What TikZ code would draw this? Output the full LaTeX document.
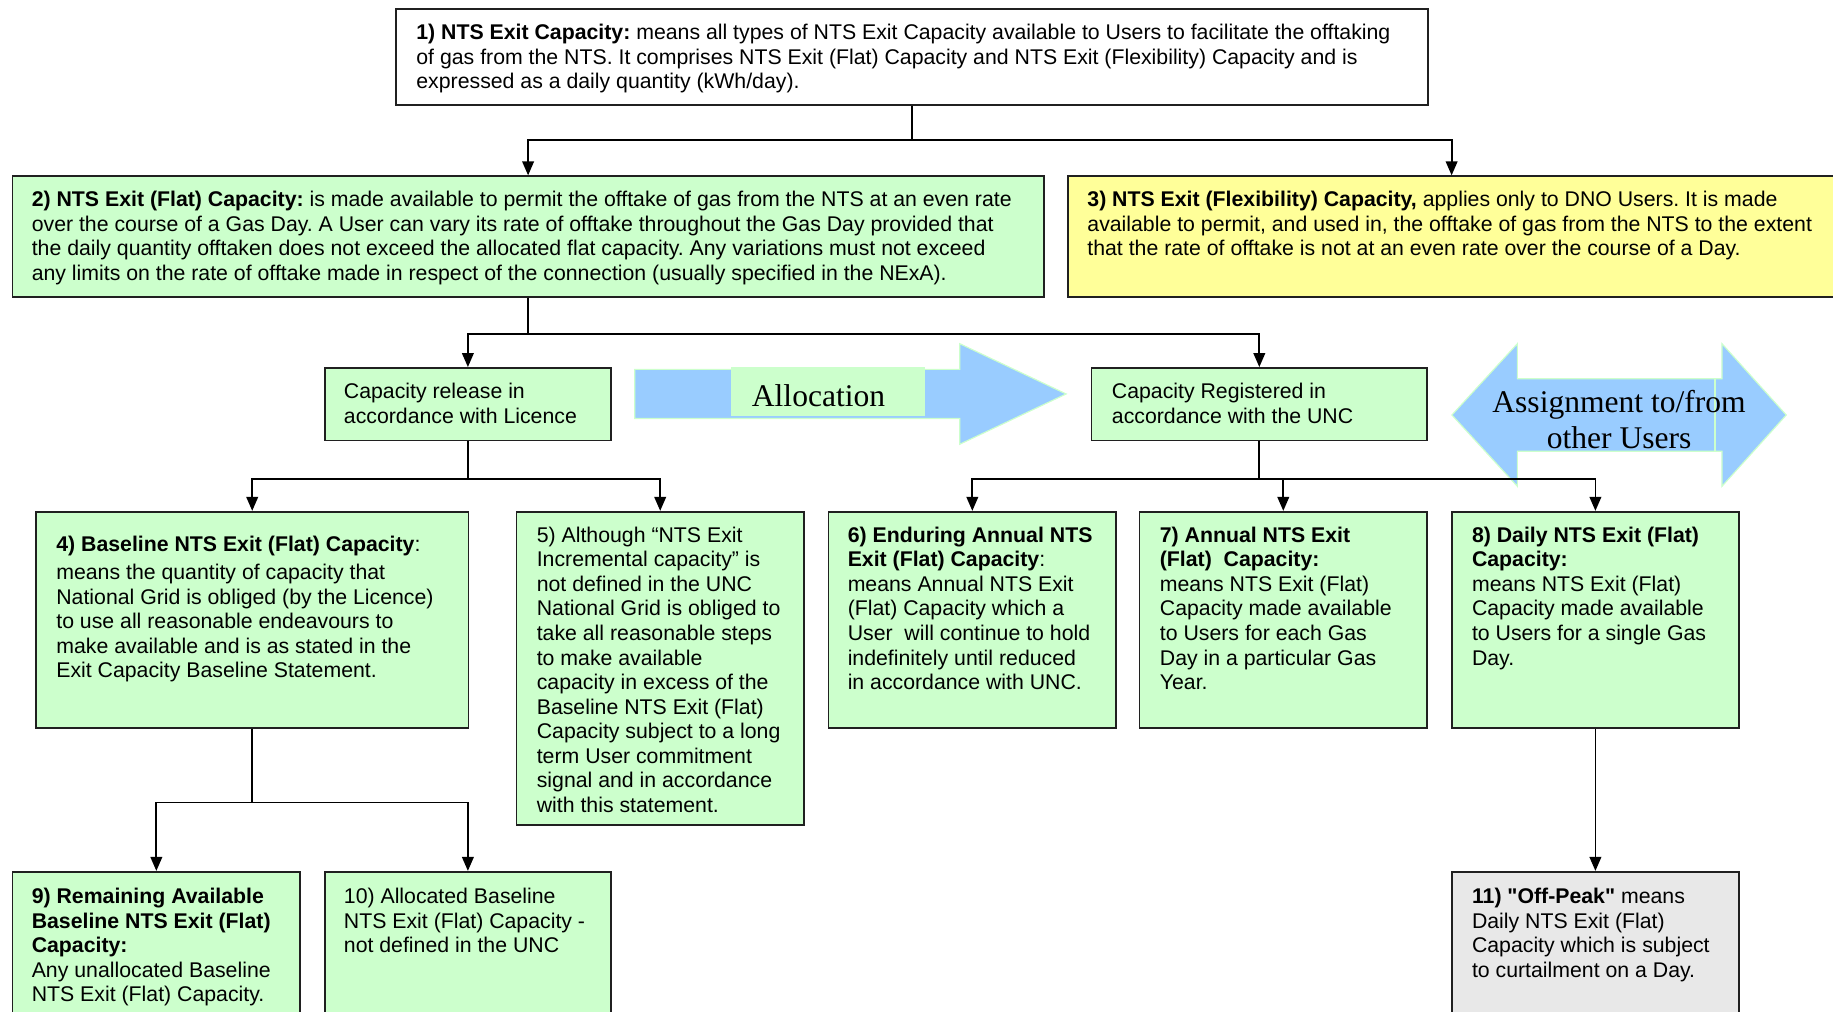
\documentclass[tikz,border=0pt]{standalone}
\usepackage{fontspec}
\setmainfont{Liberation Sans}[Ligatures=TeXOff]
\newfontfamily\serifff{Liberation Serif}
\usetikzlibrary{arrows.meta}
\definecolor{boxgreen}{HTML}{CCFFCC}
\definecolor{boxyellow}{HTML}{FFFF99}
\definecolor{boxgray}{HTML}{E8E8E8}
\definecolor{arrowblue}{HTML}{99CCFF}
\definecolor{edgegray}{HTML}{202020}
\frenchspacing
\tikzset{
  boxbase/.style={draw=edgegray, line width=1.5pt, anchor=north west, inner sep=0pt},
  wbox/.style={boxbase, fill=white},
  gbox/.style={boxbase, fill=boxgreen},
  ybox/.style={boxbase, fill=boxyellow},
  greybox/.style={boxbase, fill=boxgray},
  txt/.style={anchor=north west, inner sep=0pt, align=left, font=\fontsize{18.2}{21}\selectfont},
  conn/.style={draw=black, line width=1.5pt, -{Triangle[length=12pt,width=10pt]}},
  bigarrow/.style={fill=arrowblue, draw=boxgreen, line width=1pt},
  bigtxt/.style={font=\serifff\fontsize{27}{31}\selectfont, align=center, inner sep=0pt}
}
\begin{document}
\begin{tikzpicture}[x=1pt,y=-1pt]
\useasboundingbox (0,0) rectangle (1568,865);
\clip (0,0) rectangle (1568,865);

% big arrows
\draw[bigarrow] (543,316) -- (821,316) -- (821,294) -- (912,337) -- (821,380) -- (821,358) -- (543,358) -- cycle;
\node[fill=boxgreen, minimum width=166pt, minimum height=42pt, inner sep=0pt, anchor=north west] (alloc) at (625,314) {};
\node[bigtxt] (alloctxt) at ([shift={(-8,3)}]alloc.center) {Allocation};

\draw[bigarrow] (1242,355) -- (1298,294) -- (1298,324) -- (1473,324) -- (1473,294) -- (1528,355) -- (1473,416) -- (1473,386) -- (1298,386) -- (1298,416) -- cycle;
\draw[draw=boxgreen, line width=1pt] (1467,324) -- (1467,386);
\node[bigtxt] (assign) at (1385,359) {Assignment to/from\\other Users};

% boxes
\node[wbox, minimum width=883pt, minimum height=82pt] (b1) at (338,7) {};
\node[gbox, minimum width=882pt, minimum height=103pt] (b2) at (10,150) {};
\node[ybox, minimum width=656pt, minimum height=103pt] (b3) at (913,150) {};
\node[gbox, minimum width=245pt, minimum height=62pt] (cr) at (277,314) {};
\node[gbox, minimum width=287pt, minimum height=62pt] (creg) at (933,314) {};
\node[gbox, minimum width=370pt, minimum height=185pt] (b4) at (30,437) {};
\node[gbox, minimum width=246pt, minimum height=268pt] (b5) at (441,437) {};
\node[gbox, minimum width=246pt, minimum height=185pt] (b6) at (708,437) {};
\node[gbox, minimum width=246pt, minimum height=185pt] (b7) at (974,437) {};
\node[gbox, minimum width=246pt, minimum height=185pt] (b8) at (1241,437) {};
\node[gbox, minimum width=246pt, minimum height=140pt] (b9) at (10,745) {};
\node[gbox, minimum width=245pt, minimum height=140pt] (b10) at (277,745) {};
\node[greybox, minimum width=246pt, minimum height=140pt] (b11) at (1241,745) {};

% texts
\node[txt] (t1) at ([shift={(18,13.5)}]b1.north west) {\textbf{1) NTS Exit Capacity:} means all types of NTS Exit Capacity available to Users to facilitate the offtaking\\ of gas from the NTS. It comprises NTS Exit (Flat) Capacity and NTS Exit (Flexibility) Capacity and is\\ expressed as a daily quantity (kWh/day).};
\node[txt] (t2) at ([shift={(17,13.5)}]b2.north west) {\textbf{2) NTS Exit (Flat) Capacity:} is made available to permit the offtake of gas from the NTS at an even rate\\ over the course of a Gas Day. A User can vary its rate of offtake throughout the Gas Day provided that\\ the daily quantity offtaken does not exceed the allocated flat capacity. Any variations must not exceed\\ any limits on the rate of offtake made in respect of the connection (usually specified in the NExA).};
\node[txt] (t3) at ([shift={(17,13.5)}]b3.north west) {\textbf{3) NTS Exit (Flexibility) Capacity,} applies only to DNO Users. It is made\\ available to permit, and used in, the offtake of gas from the NTS to the extent\\ that the rate of offtake is not at an even rate over the course of a Day.};
\node[txt] (tcr) at ([shift={(17,13.5)}]cr.north west) {Capacity release in\\ accordance with Licence};
\node[txt] (tcreg) at ([shift={(18,13.5)}]creg.north west) {Capacity Registered in\\ accordance with the UNC};
\node[txt] (t4) at ([shift={(18,21.5)}]b4.north west) {\textbf{4) Baseline NTS Exit (Flat) Capacity}:\\[3pt] means the quantity of capacity that\\ National Grid is obliged (by the Licence)\\ to use all reasonable endeavours to\\ make available and is as stated in the\\ Exit Capacity Baseline Statement.};
\node[txt] (t5) at ([shift={(18,13.5)}]b5.north west) {5) Although “NTS Exit\\ Incremental capacity” is\\ not defined in the UNC\\ National Grid is obliged to\\ take all reasonable steps\\ to make available\\ capacity in excess of the\\ Baseline NTS Exit (Flat)\\ Capacity subject to a long\\ term User commitment\\ signal and in accordance\\ with this statement.};
\node[txt] (t6) at ([shift={(17,13.5)}]b6.north west) {\textbf{6) Enduring Annual NTS}\\ \textbf{Exit (Flat) Capacity}:\\ means Annual NTS Exit\\ (Flat) Capacity which a\\ User\ \ will continue to hold\\ indefinitely until reduced\\ in accordance with UNC.};
\node[txt] (t7) at ([shift={(18,13.5)}]b7.north west) {\textbf{7) Annual NTS Exit}\\ \textbf{(Flat)\ \ Capacity:}\\ means NTS Exit (Flat)\\ Capacity made available\\ to Users for each Gas\\ Day in a particular Gas\\ Year.};
\node[txt] (t8) at ([shift={(18,13.5)}]b8.north west) {\textbf{8) Daily NTS Exit (Flat)}\\ \textbf{Capacity:}\\ means NTS Exit (Flat)\\ Capacity made available\\ to Users for a single Gas\\ Day.};
\node[txt] (t9) at ([shift={(17,14.5)}]b9.north west) {\textbf{9) Remaining Available}\\ \textbf{Baseline NTS Exit (Flat)}\\ \textbf{Capacity:}\\ Any unallocated Baseline\\ NTS Exit (Flat) Capacity.};
\node[txt] (t10) at ([shift={(17,14.5)}]b10.north west) {10) Allocated Baseline\\ NTS Exit (Flat) Capacity -\\ not defined in the UNC};
\node[txt] (t11) at ([shift={(18,14.5)}]b11.north west) {\textbf{11) "Off-Peak"} means\\ Daily NTS Exit (Flat)\\ Capacity which is subject\\ to curtailment on a Day.};

% connectors
\draw[conn] (b1.south) -- ++(0,29) -| (b2.north);
\draw[conn] (b1.south) -- ++(0,29) -| (b3.north);
\draw[conn] (b2.south) -- ++(0,31) -| (cr.north);
\draw[conn] (b2.south) -- ++(0,31) -| (creg.north);
\draw[conn] (cr.south) -- ++(0,32) -| (b4.north);
\draw[conn] (cr.south) -- ++(0,32) -| (b5.north);
\draw[conn] (creg.south) -- ++(0,32) -| (b6.north);
\draw[conn] (creg.south) -- ++(0,32) -| (b7.north);
\draw[conn] (creg.south) -- ++(0,32) -| (b8.north);
\draw[conn] (b4.south) -- ++(0,63) -| (b9.north);
\draw[conn] (b4.south) -- ++(0,63) -| (b10.north);
\draw[conn] (b8.south) -- (b11.north);
\end{tikzpicture}
\end{document}
